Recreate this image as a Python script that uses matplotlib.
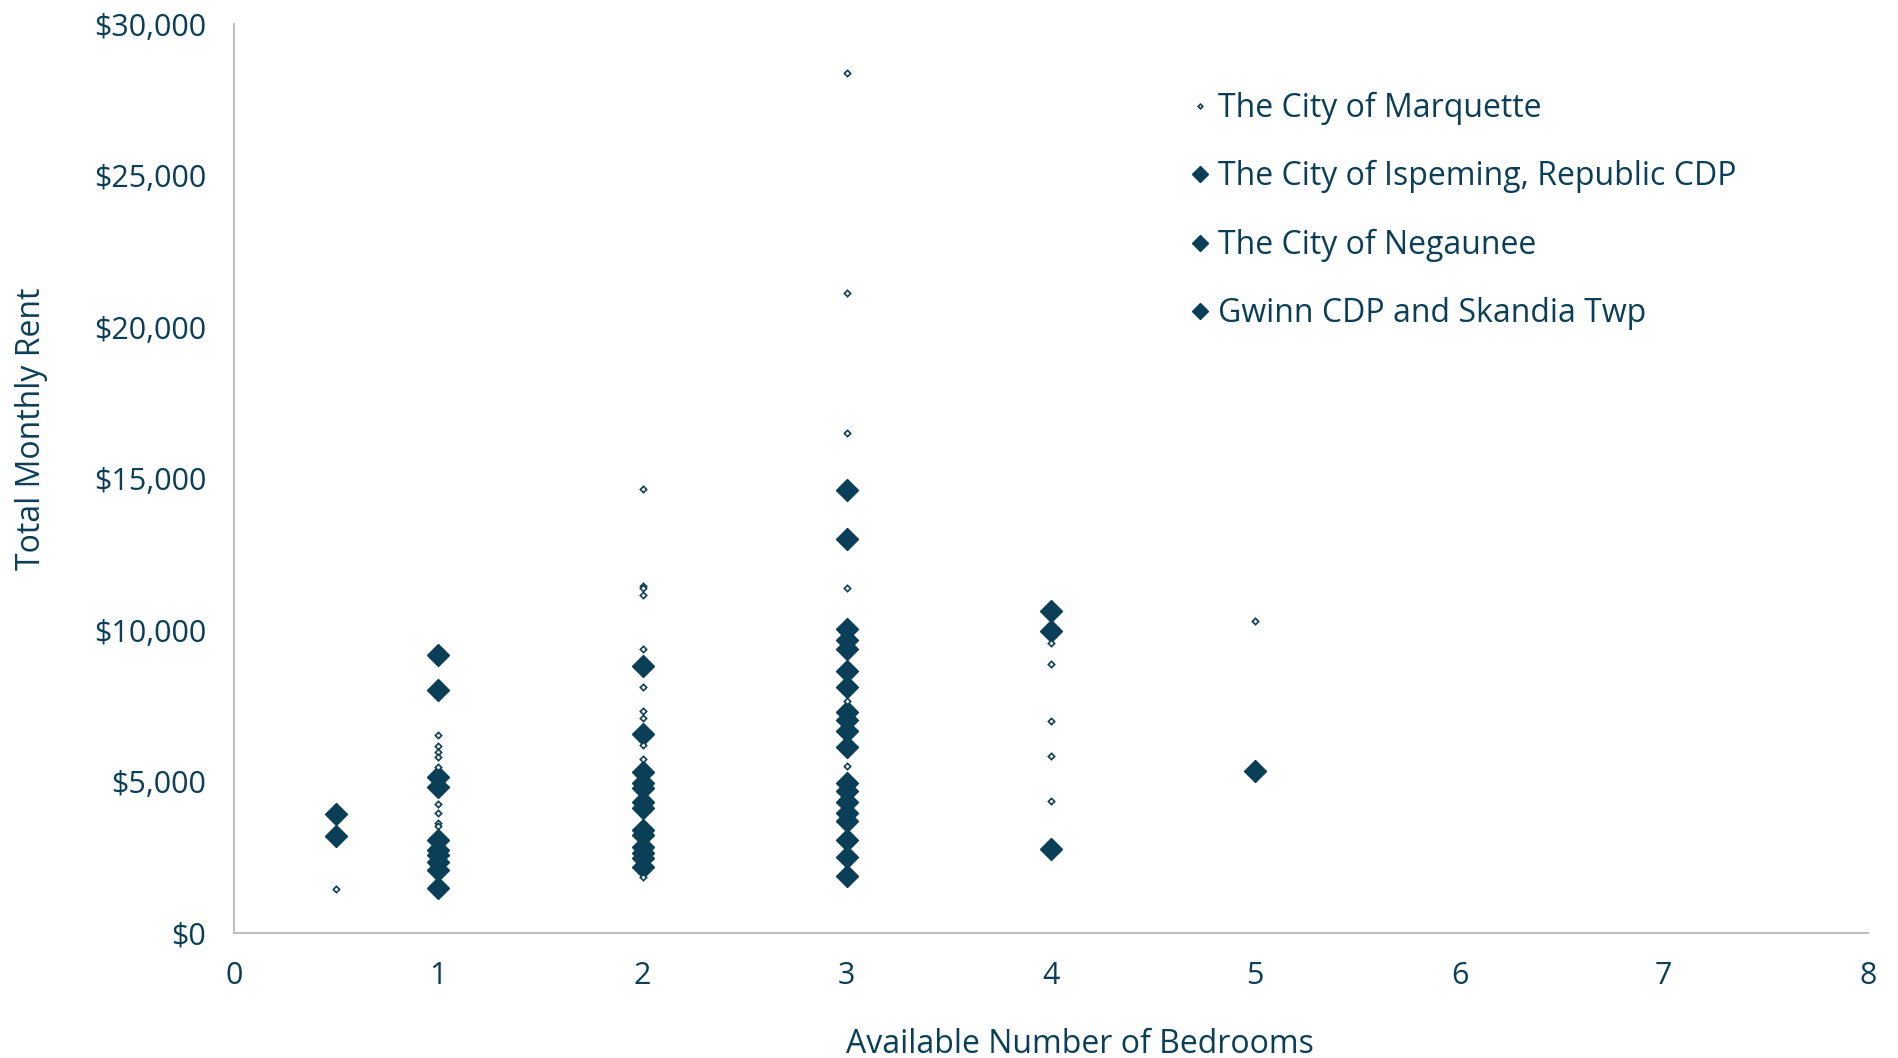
import matplotlib
matplotlib.use("Agg")
import matplotlib.pyplot as plt
from matplotlib.ticker import FuncFormatter

# colours
c_main = "#0B3F57"
c_axis = "#BFBFBF"

# The City of Marquette (small hollow markers)
marq_x = [0.5,
          1, 1, 1, 1, 1, 1, 1, 1, 1,
          2, 2, 2, 2, 2, 2, 2, 2, 2, 2, 2,
          3, 3, 3, 3, 3, 3,
          4, 4, 4, 4, 4,
          5]
marq_y = [1450,
          6530, 6170, 5980, 5820, 5490, 4250, 3950, 3640, 3530,
          14640, 11450, 11380, 11150, 9370, 8130, 7330, 7100, 6200, 5740, 1860,
          28390, 21130, 16500, 11390, 7670, 5500,
          9570, 8880, 6990, 5830, 4350,
          10300]

# The City of Ispeming, Republic CDP
isp_x = [0.5, 1, 1, 1, 1, 2, 2, 2, 2, 2, 3, 3, 3, 3, 3, 3, 3, 4]
isp_y = [3930, 9170, 5160, 3070, 2350, 8820, 5320, 4330, 3230, 2470,
         14630, 10020, 9390, 8120, 7040, 4950, 3960, 10640]

# The City of Negaunee
neg_x = [0.5, 1, 1, 1, 2, 2, 2, 2, 3, 3, 3, 3, 3, 3, 4, 5]
neg_y = [3200, 8020, 4830, 2740, 6570, 4940, 4120, 2850, 13020, 9660,
         8660, 7310, 6130, 4320, 9980, 5350]

# Gwinn CDP and Skandia Twp
gw_x = [1, 1, 1, 2, 2, 2, 2, 3, 3, 3, 3, 3, 3, 4]
gw_y = [2570, 2080, 1480, 4780, 3400, 2640, 2190, 6670, 4680, 3700,
        3060, 2510, 1880, 2780]

x_ticks = [0, 1, 2, 3, 4, 5, 6, 7, 8]
y_ticks = [0, 5000, 10000, 15000, 20000, 25000, 30000]

plt.rcParams["font.family"] = ["Open Sans", "DejaVu Sans"]

fig = plt.figure(figsize=(18.98, 10.58), dpi=100)
ax = fig.add_axes([0.1233, 0.1181, 0.8609, 0.8592])

ms_big = 11
ax.plot(isp_x, isp_y, "D", ms=ms_big, color=c_main, mec=c_main,
        label="The City of Ispeming, Republic CDP", zorder=3)
ax.plot(neg_x, neg_y, "D", ms=ms_big, color=c_main, mec=c_main,
        label="The City of Negaunee", zorder=3)
ax.plot(gw_x, gw_y, "D", ms=ms_big, color=c_main, mec=c_main,
        label="Gwinn CDP and Skandia Twp", zorder=3)
ax.plot(marq_x, marq_y, "D", ms=3.2, mfc="white", mec=c_main, mew=1.2,
        label="The City of Marquette", zorder=4)

ax.set_xlim(0, 8)
ax.set_ylim(0, 30000)
ax.set_xticks(x_ticks)
ax.set_yticks(y_ticks)
ax.yaxis.set_major_formatter(FuncFormatter(lambda v, p: f"${v:,.0f}"))
ax.tick_params(length=0, labelsize=22, colors=c_main)
ax.tick_params(axis="x", pad=20)
ax.tick_params(axis="y", pad=20)

for s in ["top", "right"]:
    ax.spines[s].set_visible(False)
for s in ["left", "bottom"]:
    ax.spines[s].set_color(c_axis)
    ax.spines[s].set_linewidth(1.5)

ax.set_xlabel("Available Number of Bedrooms", fontsize=23, color=c_main)
ax.set_ylabel("Total Monthly Rent", fontsize=23, color=c_main)
ax.xaxis.set_label_coords(0.5175, -0.104)
ax.yaxis.set_label_coords(-0.114, 0.555)

handles, labels = ax.get_legend_handles_labels()
order = [3, 0, 1, 2]
leg = ax.legend([handles[i] for i in order], [labels[i] for i in order],
                loc="upper left", bbox_to_anchor=(0.568, 0.957),
                frameon=False, fontsize=23, handlelength=0.55,
                handletextpad=0.3, labelspacing=1.1, markerscale=0.75)
for t in leg.get_texts():
    t.set_color(c_main)

fig.savefig("out.png", dpi=100)
